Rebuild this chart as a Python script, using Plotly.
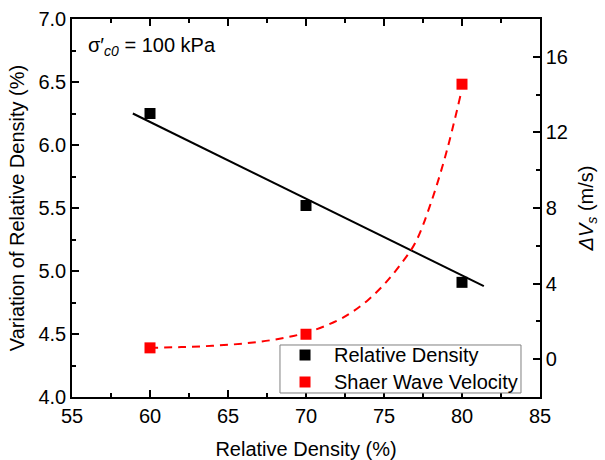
import plotly.graph_objects as go

# Data
dr_x = [60, 70, 80]
dr_y = [6.25, 5.52, 4.91]
vs_y = [0.60, 1.32, 14.55]

# linear fit line (relative density)
fit_dr_x = [58.9, 81.4]
fit_dr_y = [6.25, 4.88]

# exponential fit curve (shear wave velocity)
fit_vs_x = [60, 62, 64, 66, 68, 70, 72, 73, 74, 75, 76, 77, 78, 79, 79.9]
fit_vs_y = [0.60, 0.64, 0.71, 0.83, 1.04, 1.40, 2.04, 2.52, 3.15, 3.95, 4.95, 6.15, 8.25, 10.95, 13.95]

legend_names = ["Relative Density", "Shaer Wave Velocity"]
legend_colors = ["black", "red"]

FONT = "Liberation Sans, Arial, sans-serif"
FS = 20

fig = go.Figure()
fig.add_trace(go.Scatter(x=fit_dr_x, y=fit_dr_y, mode="lines",
                         line=dict(color="black", width=2), showlegend=False))
fig.add_trace(go.Scatter(x=fit_vs_x, y=fit_vs_y, mode="lines", yaxis="y2",
                         line=dict(color="red", width=2, dash="8px,6px", shape="spline"),
                         showlegend=False))
fig.add_trace(go.Scatter(x=dr_x, y=dr_y, mode="markers", name=legend_names[0],
                         showlegend=False,
                         marker=dict(symbol="square", size=11, color="black")))
fig.add_trace(go.Scatter(x=dr_x, y=vs_y, mode="markers", name=legend_names[1],
                         yaxis="y2", showlegend=False,
                         marker=dict(symbol="square", size=11, color="red")))

axis_common = dict(showgrid=False, zeroline=False, showline=True, linecolor="black",
                   linewidth=1.5, ticks="inside", ticklen=7, tickwidth=1.5, automargin=False,
                   tickcolor="black", tickfont=dict(family=FONT, size=FS, color="black"))

# Custom legend (box, symbols, labels) in paper coordinates
lg_x0, lg_x1, lg_y0, lg_y1 = 0.4444, 0.9594, 0.0106, 0.1376
row_y = [0.1111, 0.0397]
sym_x, sym_hw, sym_hh = 0.4979, 0.01175, 0.01455
txt_x = 0.5556

shapes = [dict(type="rect", xref="paper", yref="paper", x0=lg_x0, x1=lg_x1, y0=lg_y0, y1=lg_y1,
               line=dict(color="#808080", width=1), fillcolor="white", layer="above")]
annotations = []
for name, col, ry in zip(legend_names, legend_colors, row_y):
    shapes.append(dict(type="rect", xref="paper", yref="paper",
                       x0=sym_x - sym_hw, x1=sym_x + sym_hw, y0=ry - sym_hh, y1=ry + sym_hh,
                       line=dict(width=0), fillcolor=col, layer="above"))
    annotations.append(dict(text=name, x=txt_x, y=ry, xref="paper", yref="paper",
                            xanchor="left", yanchor="middle", showarrow=False,
                            font=dict(family=FONT, size=FS, color="black")))

annotations.append(dict(text="σ′<sub><i>c0</i></sub> = 100 kPa", x=0.03, y=0.926,
                        xref="paper", yref="paper", xanchor="left", yanchor="middle",
                        showarrow=False, font=dict(family=FONT, size=FS)))

fig.update_layout(
    width=605, height=460,
    margin=dict(l=72, r=65, t=19, b=63),
    plot_bgcolor="white", paper_bgcolor="white",
    font=dict(family=FONT, size=FS, color="black"),
    showlegend=False,
    xaxis=dict(range=[55, 85], dtick=5, tick0=55, mirror="ticks",
               minor=dict(ticks="inside", ticklen=4, dtick=2.5, tickcolor="black", tickwidth=1.5),
               title=dict(text="Relative Density (%)", font=dict(family=FONT, size=FS), standoff=18),
               **axis_common),
    yaxis=dict(range=[4.0, 7.0], dtick=0.5, tickformat=".1f",
               minor=dict(ticks="inside", ticklen=4, dtick=0.25, tickcolor="black", tickwidth=1.5),
               title=dict(text="Variation of Relative Density (%)", font=dict(family=FONT, size=FS), standoff=8),
               **axis_common),
    yaxis2=dict(range=[-2, 18], dtick=4, tick0=0, overlaying="y", side="right",
                minor=dict(ticks="inside", ticklen=4, dtick=2, tickcolor="black", tickwidth=1.5),
                title=dict(text="<i>ΔV</i><sub><i>s</i></sub> (m/s)", font=dict(family=FONT, size=FS), standoff=12),
                **axis_common),
    shapes=shapes,
    annotations=annotations,
)

fig.write_html("out.html")
